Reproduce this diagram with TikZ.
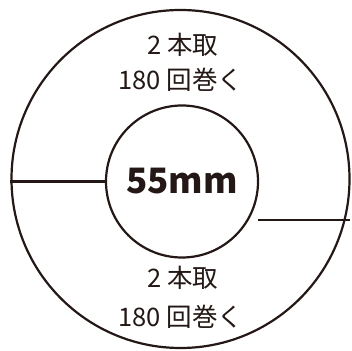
\documentclass[tikz,border=0pt]{standalone}
\usepackage{fontspec}
\setmainfont{Noto Sans CJK JP}
\usepackage{tikz}
\definecolor{inkbrown}{HTML}{231815}
\tikzset{
  ring/.style={draw, circle, line width=2.2pt, inner sep=0pt},
  lbl/.style={font=\fontsize{25.5}{28}\selectfont, inner sep=0pt}
}

\begin{document}
\begin{tikzpicture}[x=1pt, y=1pt, line width=2.2pt, color=inkbrown]
      \useasboundingbox (0,0) rectangle (352,350);

      % Outer and inner circles
      \node[ring, minimum size=338pt] (outer) at (180.5,171) {};
      \node[ring, minimum size=152pt, font=\fontsize{35}{38}\selectfont\bfseries] (core) at (182,168.5) {55mm};

      % Dividing lines
      \coordinate (cutA) at (258,130);
      \coordinate (cutB) at (350,130);
      \draw (core.west) -- (core.west -| outer.west);
      \draw (cutA) -- (cutB);

      % Labels
      \node[lbl] (topA) at (183,305) {2 本取};
      \node[lbl] (topB) at (181,270) {180 回巻く};
      \node[lbl] (botA) at (183,72) {2 本取};
      \node[lbl] (botB) at (181,33) {180 回巻く};
    \end{tikzpicture}
\end{document}
